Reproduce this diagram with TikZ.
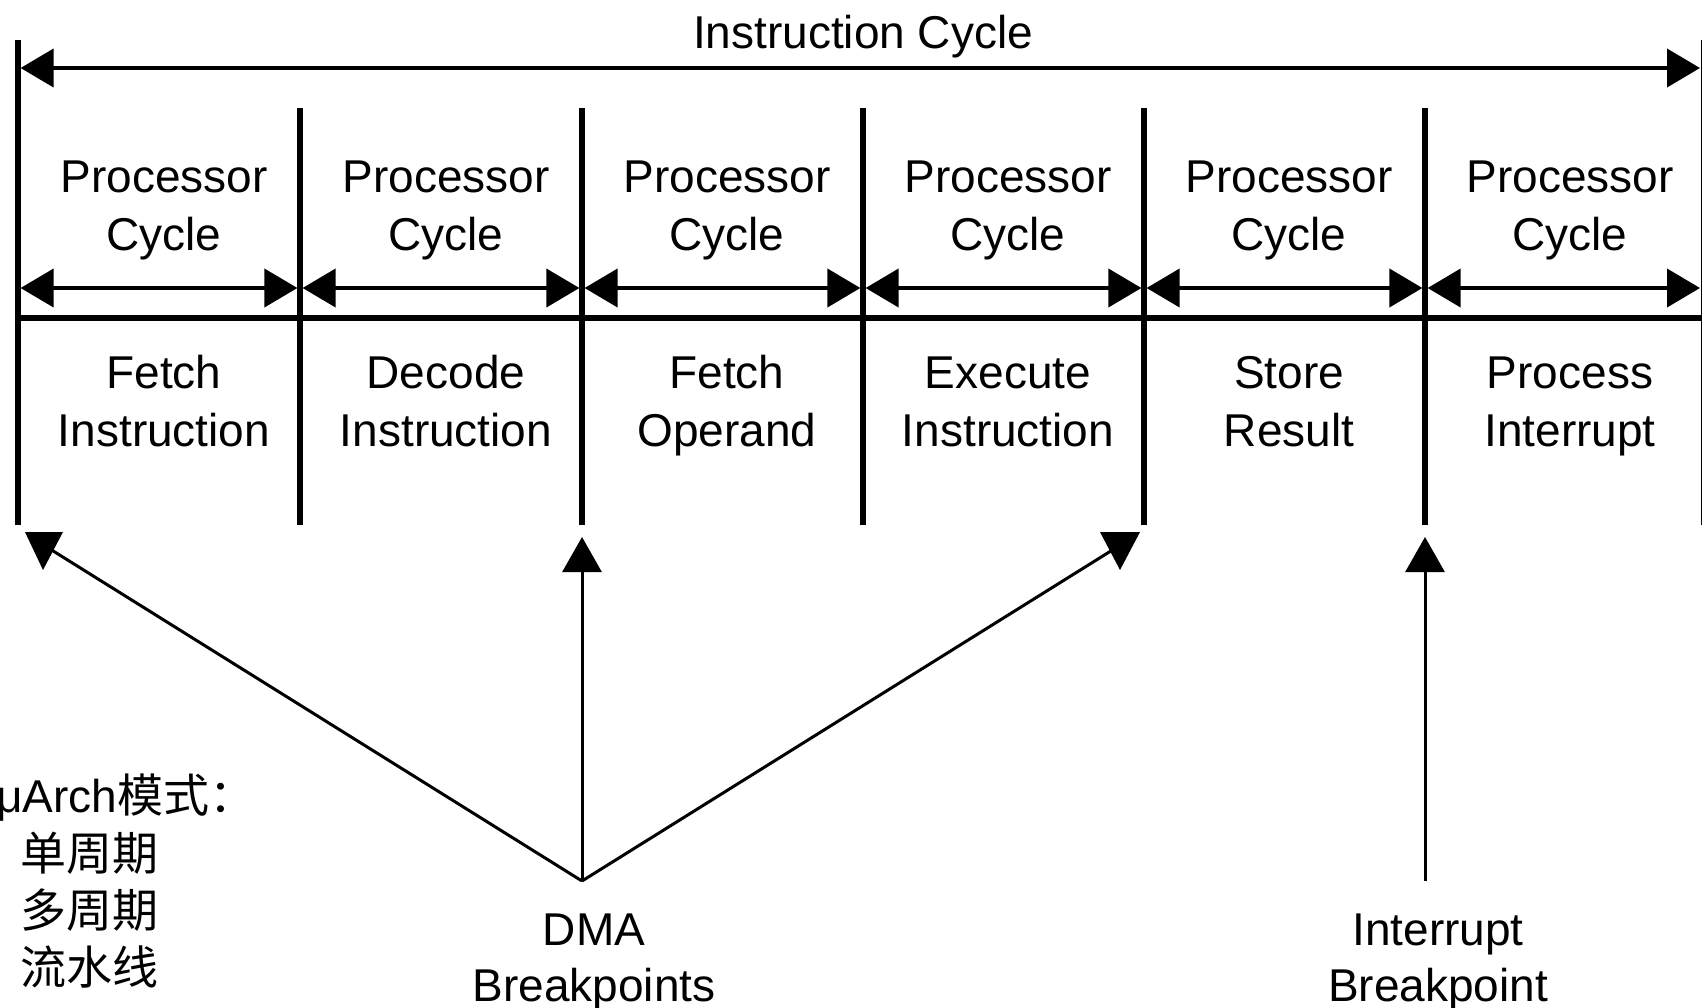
\documentclass[tikz,border=0pt]{standalone}
\usepackage{fontspec}
\setmainfont{Liberation Sans}
\newfontfamily\cjk{Noto Sans CJK SC}
\usetikzlibrary{arrows.meta}
\begin{document}
\begin{tikzpicture}[x=0.5pt,y=-0.5pt,
  lbl/.style={inner sep=0pt, anchor=base, font=\fontsize{23}{29}\selectfont},
  lblw/.style={lbl, anchor=base west},
  sepline/.style={line width=2.6pt},
  span/.style={line width=2pt, {Triangle[length=16.5pt,width=19pt]}-{Triangle[length=16.5pt,width=19pt]}},
  brk/.style={line width=1.5pt},
  upbrk/.style={brk, -{Triangle[length=17.5pt,width=19.5pt]}},
  wedge/.style={fill=black},
]
\useasboundingbox (0,0) rectangle (1702,1007);

% boundaries
\draw[sepline] (18,40) -- (18,525);
\foreach \x in {300,582,863,1144,1425} \draw[sepline] (\x,108) -- (\x,525);
\draw[sepline] (1703.6,40) -- (1703.6,525);
\draw[sepline] (18,318) -- (1702,318);

% instruction cycle span
\draw[span] (20.6,68) -- (1700,68);
\node[lbl] (ic) at (863,48) {Instruction Cycle};

% processor cycle spans
\foreach \a/\b in {18/300,300/582,582/863,863/1144,1144/1425}
  \draw[span] (\a+2.6,288) -- (\b-2.6,288);
\draw[span] (1427.6,288) -- (1700,288);

% processor cycle labels
\foreach \c [count=\i] in {164,446,727,1008,1289,1570} {
  \node[lbl] (pa\i) at (\c,192) {Processor};
  \node[lbl] (pb\i) at (\c,250) {Cycle};
}

% stage labels
\node[lbl] (s1a) at (164,388) {Fetch};
\node[lbl] (s1b) at (164,446) {Instruction};
\node[lbl] (s2a) at (446,388) {Decode};
\node[lbl] (s2b) at (446,446) {Instruction};
\node[lbl] (s3a) at (727,388) {Fetch};
\node[lbl] (s3b) at (727,446) {Operand};
\node[lbl] (s4a) at (1008,388) {Execute};
\node[lbl] (s4b) at (1008,446) {Instruction};
\node[lbl] (s5a) at (1289,388) {Store};
\node[lbl] (s5b) at (1289,446) {Result};
\node[lbl] (s6a) at (1570,388) {Process};
\node[lbl] (s6b) at (1570,446) {Interrupt};

% breakpoints
\coordinate (dma) at (582,881);
\coordinate (irq) at (1425,881);
\coordinate (ltip) at (50,549);
\coordinate (rtip) at (1114,549);
\coordinate (dmaup) at (582,537);
\coordinate (irqup) at (1425,537);

\fill[wedge] (25,532) -- (63,532) -- (43,570) -- cycle;
\fill[wedge] (1100,532) -- (1140,532) -- (1120,570) -- cycle;
\draw[brk] (dma) -- (ltip);
\draw[brk] (dma) -- (rtip);
\draw[upbrk] (dma) -- (dmaup);
\draw[upbrk] (irq) -- (irqup);

\node[lbl] (dmaa) at (594,945) {DMA};
\node[lbl] (dmab) at (594,1001) {Breakpoints};
\node[lbl] (irqa) at (1438,945) {Interrupt};
\node[lbl] (irqb) at (1438,1001) {Breakpoint};

% side note
\node[lblw] (ua) at (-4,812) {μArch{\cjk 模式：}};
\node[lblw] (ub) at (20,870) {\cjk 单周期};
\node[lblw] (uc) at (20,927) {\cjk 多周期};
\node[lblw] (ud) at (20,984) {\cjk 流水线};
\end{tikzpicture}
\end{document}
